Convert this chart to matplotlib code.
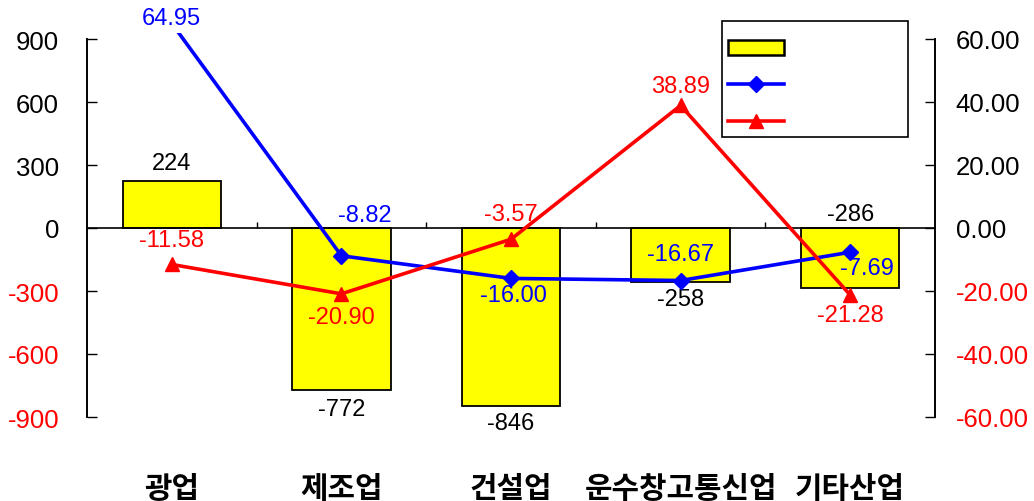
import numpy as np
import matplotlib
matplotlib.use("Agg")
import matplotlib.pyplot as plt
from matplotlib.patches import Patch, Rectangle
from matplotlib.lines import Line2D
from matplotlib.transforms import Bbox, TransformedBbox, IdentityTransform

plt.rcParams["font.family"] = ["Liberation Sans", "Noto Sans CJK KR", "DejaVu Sans"]

# data
categories = ["광업", "제조업", "건설업", "운수창고통신업", "기타산업"]
bar_values = [224, -772, -846, -258, -286]
blue_values = [64.95, -8.82, -16.00, -16.67, -7.69]
red_values = [-11.58, -20.90, -3.57, 38.89, -21.28]
left_ticks = [-900, -600, -300, 0, 300, 600, 900]
right_ticks = [-60, -40, -20, 0, 20, 40, 60]

# label offsets in pixels (dx, dy)
bar_offsets = [(0, 18), (0, -19), (0, -17), (0, -17), (0, 74)]
blue_offsets = [(0, 5), (23, 41), (2, -17), (0, 27), (17, -16)]
red_offsets = [(0, 24), (0, -23), (0, 25), (0, 19), (0, -20)]

fig = plt.figure(figsize=(10.34, 5.02), dpi=100)
ax = fig.add_axes([87 / 1034, 84 / 502, 848 / 1034, 378 / 502])
ax2 = ax.twinx()

x = np.arange(len(categories))

ax.bar(x, bar_values, width=0.58, color="#FFFF00", edgecolor="black", linewidth=1.3, zorder=2)
ax.set_xlim(-0.5, len(categories) - 0.5)
ax.set_ylim(-900, 900)
ax.set_yticks(left_ticks)
ax.set_yticklabels([str(v) for v in left_ticks])
ax.axhline(0, color="black", linewidth=1.2, zorder=3)
ax.vlines(x[:-1] + 0.5, 0, 30, color="black", linewidth=1, zorder=3)

for i, v in enumerate(bar_values):
    ax.annotate(str(v), (x[i], v), xytext=bar_offsets[i], textcoords="offset pixels",
                ha="center", va="center", fontsize=17, color="black")

# plot area is a bit taller than the axis range
plot_area = TransformedBbox(Bbox.from_extents(87, 84, 935, 502 - 34), IdentityTransform())
blue_line, = ax2.plot(x, blue_values, color="#0000FF", linewidth=2.6, marker="D", markersize=8, zorder=4)
red_line, = ax2.plot(x, red_values, color="#FF0000", linewidth=2.6, marker="^", markersize=10, zorder=4)
for ln in (blue_line, red_line):
    ln.set_clip_box(plot_area)
ax2.set_ylim(-60, 60)
ax2.set_yticks(right_ticks)
ax2.set_yticklabels(["%.2f" % v for v in right_ticks])

for i, v in enumerate(blue_values):
    ax2.annotate("%.2f" % v, (x[i], v), xytext=blue_offsets[i], textcoords="offset pixels",
                 ha="center", va="center", fontsize=17, color="#0000FF", annotation_clip=False)
for i, v in enumerate(red_values):
    ax2.annotate("%.2f" % v, (x[i], v), xytext=red_offsets[i], textcoords="offset pixels",
                 ha="center", va="center", fontsize=17, color="#FF0000", annotation_clip=False)

# spines and ticks
for a in (ax, ax2):
    a.spines["top"].set_visible(False)
    a.spines["bottom"].set_visible(False)
    a.spines["left"].set_linewidth(1.2)
    a.spines["right"].set_linewidth(1.2)
    a.set_xticks([])
ax.tick_params(axis="y", direction="in", length=7, width=1, pad=20, labelsize=18.5)
ax2.tick_params(axis="y", direction="in", length=7, width=1, pad=15, labelsize=18.5)

for lbl, v in zip(ax.get_yticklabels(), left_ticks):
    lbl.set_color("#FF0000" if v < 0 else "black")
for lbl, v in zip(ax2.get_yticklabels(), right_ticks):
    lbl.set_color("#FF0000" if v < 0 else "black")

for i, name in enumerate(categories):
    ax.text(x[i], -0.19, name, transform=ax.get_xaxis_transform(), ha="center", va="center",
            fontsize=21.5, fontweight="bold")

# legend (no labels) with a separately drawn frame
handles = [
    Patch(facecolor="#FFFF00", edgecolor="black", linewidth=1.8),
    Line2D([], [], color="#0000FF", linewidth=2.6, marker="D", markersize=8),
    Line2D([], [], color="#FF0000", linewidth=2.6, marker="^", markersize=10),
]
fig.patches.append(Rectangle((722 / 1034, 1 - 138 / 502), 186 / 1034, 116 / 502,
                             transform=fig.transFigure, facecolor="white",
                             edgecolor="black", linewidth=1.2, zorder=5))
leg = fig.legend(handles, [" ", " ", " "], loc="upper left",
                 bbox_to_anchor=(728 / 1034, 1 - 41 / 502),
                 fontsize=15, handlelength=2.7, handleheight=0.7, labelspacing=0.85,
                 borderpad=0, borderaxespad=0, frameon=False)
leg.set_zorder(6)

fig.savefig("out.png", dpi=100)
